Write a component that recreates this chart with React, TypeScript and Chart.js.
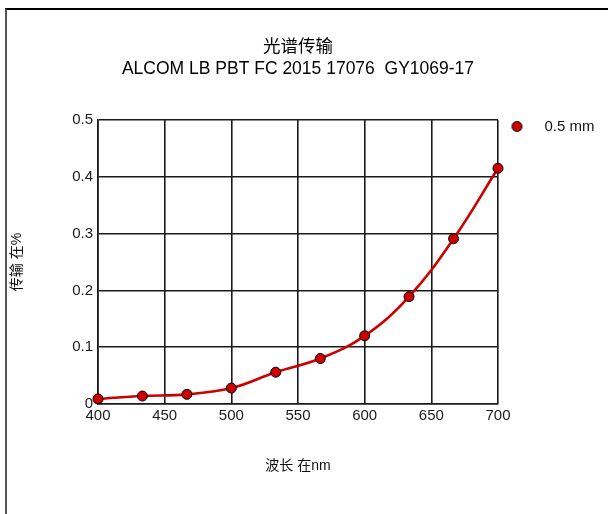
import React, { useEffect, useRef } from "react";
import { Chart, registerables } from "chart.js";

Chart.register(...registerables);

const titleLines = ["光谱传输", "ALCOM LB PBT FC 2015 17076  GY1069-17"];
const seriesLabel = "0.5 mm";
const wavelengths = [400, 433.3, 466.7, 500, 533.3, 566.7, 600, 633.3, 666.7, 700];
const transmission = [0.009, 0.014, 0.017, 0.028, 0.056, 0.08, 0.12, 0.189, 0.291, 0.415];
const xTitle = "波长 在nm";
const yTitle = "传输 在%";
const xRange = [400, 700];
const yRange = [0, 0.5];

const FONT = "'Liberation Sans', Arial, 'Noto Sans CJK SC', sans-serif";
const RED = "#cc0000";

export default function App() {
  const ref = useRef<HTMLCanvasElement | null>(null);

  useEffect(() => {
    const canvas = ref.current;
    if (!canvas) return;
    const marker = document.createElement("canvas");
    marker.width = 13;
    marker.height = 13;
    const mctx = marker.getContext("2d");
    if (mctx) {
      mctx.beginPath();
      mctx.arc(6.5, 6.5, 5, 0, Math.PI * 2);
      mctx.fillStyle = RED;
      mctx.fill();
      mctx.lineWidth = 1;
      mctx.strokeStyle = "#000";
      mctx.stroke();
    }

    const points = wavelengths.map((x, i) => ({ x, y: transmission[i] }));

    const chart = new Chart(canvas, {
      type: "line",
      data: {
        datasets: [
          {
            label: seriesLabel,
            data: points,
            borderColor: RED,
            backgroundColor: RED,
            borderWidth: 2.6,
            tension: 0.4,
            pointRadius: 5,
            pointBackgroundColor: RED,
            pointBorderColor: "#000",
            pointBorderWidth: 1,
            clip: false as any,
            fill: false,
          },
        ],
      },
      options: {
        responsive: false,
        animation: false,
        devicePixelRatio: 1,
        layout: { padding: { left: 0, right: 3.5, top: 0, bottom: 0 } },
        plugins: {
          title: {
            display: true,
            text: titleLines,
            fullSize: false,
            color: "#000",
            font: { family: FONT, size: 17.5, weight: "normal", lineHeight: 1.26 },
            padding: { top: 36.5, bottom: 39.4 },
          },
          legend: {
            display: true,
            position: "right",
            align: "start",
            fullSize: false,
            labels: {
              usePointStyle: true,
              pointStyle: marker as any,
              pointStyleWidth: 40,
              padding: -1,
              color: "#111",
              font: { family: FONT, size: 15 },
            },
          },
          tooltip: { enabled: false },
        },
        scales: {
          x: {
            type: "linear",
            min: xRange[0],
            max: xRange[1],
            afterFit: (s: any) => {
              s.height = 110;
            },
            ticks: {
              stepSize: 50,
              padding: 3,
              color: "#1a1a1a",
              maxRotation: 0,
              font: { family: FONT, size: 15 },
              callback: (v: any) => String(v),
            },
            grid: { color: "#1a1a1a", lineWidth: 1.6, drawTicks: false },
            border: { display: true, color: "#1a1a1a", width: 1.6 },
            title: {
              display: true,
              text: xTitle,
              color: "#111",
              font: { family: FONT, size: 14 },
              padding: { top: 0, bottom: 39.6 },
            },
          },
          y: {
            type: "linear",
            min: yRange[0],
            max: yRange[1],
            afterFit: (s: any) => {
              s.width = 98;
            },
            ticks: {
              stepSize: 0.1,
              padding: 5,
              color: "#1a1a1a",
              font: { family: FONT, size: 15 },
              callback: (v: any) => String(Number(Number(v).toFixed(1))),
            },
            grid: { color: "#1a1a1a", lineWidth: 1.6, drawTicks: false },
            border: { display: true, color: "#1a1a1a", width: 1.6 },
            title: {
              display: true,
              text: yTitle,
              color: "#111",
              font: { family: FONT, size: 14 },
              padding: { top: 8.5, bottom: 0 },
            },
          },
        },
      },
    });
    return () => chart.destroy();
  }, []);

  return (
    <div style={{ position: "absolute", left: 0, top: 0, width: 608, height: 514, overflow: "hidden", background: "#fff" }}>
      <div
        style={{
          position: "absolute",
          left: 5,
          top: 8,
          width: 700,
          height: 600,
          borderTop: "2px solid #000",
          borderLeft: "2px solid #555",
        }}
      />
      <canvas ref={ref} width={608} height={514} style={{ position: "absolute", left: 0, top: 0, width: 608, height: 514 }} />
    </div>
  );
}
